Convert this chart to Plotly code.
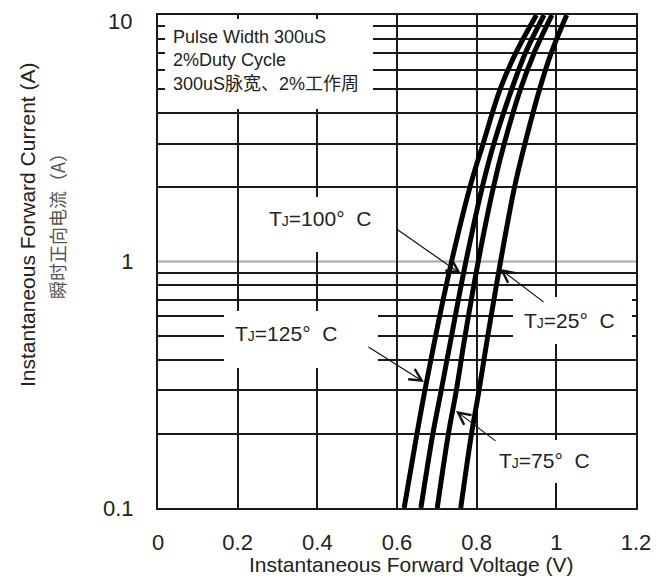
import plotly.graph_objects as go

# ---- data ----
current_a = [0.1, 0.2, 0.3, 0.5, 1, 2, 3, 5, 7, 10]
v_tj125 = [0.618, 0.650, 0.670, 0.697, 0.737, 0.783, 0.816, 0.859, 0.898, 0.950]
v_tj100 = [0.660, 0.690, 0.711, 0.737, 0.773, 0.814, 0.843, 0.888, 0.922, 0.969]
v_tj75 = [0.701, 0.729, 0.749, 0.771, 0.804, 0.842, 0.869, 0.910, 0.944, 0.989]
v_tj25 = [0.760, 0.787, 0.806, 0.828, 0.860, 0.895, 0.921, 0.958, 0.987, 1.026]

x_tick_vals = [0, 0.2, 0.4, 0.6, 0.8, 1.0, 1.2]
x_tick_text = ["0", "0.2", "0.4", "0.6", "0.8", "1", "1.2"]
y_tick_vals = [0.1, 1]
y_tick_text = ["0.1", "1"]
y_top_label = "10"
y_minor_grid = [0.2, 0.3, 0.4, 0.5, 0.6, 0.7, 0.8, 0.9,
                2, 3, 4, 5, 6, 7, 8, 9]

# ---- geometry (window pixels -> paper) ----
OFF = 8  # page body margin
W, H = 663, 578
L, R, T, B = 158, 636, 15, 508


def px(x):
    return (x - L) / (R - L)


def py(y):
    return (B - y) / (B - T)


FONT = "Liberation Sans, Arial, sans-serif"
GRID = "#1a1a1a"
fig = go.Figure()

for v in (v_tj125, v_tj100, v_tj75, v_tj25):
    fig.add_trace(go.Scatter(x=v, y=current_a, mode="lines",
                             line=dict(color="black", width=5, shape="spline"),
                             showlegend=False, hoverinfo="skip"))

shapes = []
# gray line at 1 A
shapes.append(dict(type="line", xref="paper", yref="y", x0=0, x1=1, y0=1, y1=1,
                   line=dict(color="#a8a8a8", width=2), layer="below"))
# white label backgrounds
for (x0, x1, y0, y1) in [(165, 373, 19, 109), (248, 392, 197, 252),
                         (224, 378, 311, 368), (513, 632, 297, 344),
                         (487, 620, 440, 483)]:
    shapes.append(dict(type="rect", xref="paper", yref="paper",
                       x0=px(x0), x1=px(x1), y0=py(y1), y1=py(y0),
                       fillcolor="white", line=dict(width=0), layer="above"))

ann = []
# top y tick label
ann.append(dict(text=y_top_label, xref="paper", yref="paper", x=px(133), y=py(8),
                xanchor="right", yanchor="top", showarrow=False, borderpad=0,
                font=dict(family=FONT, size=22, color="#222")))
# axis titles
ann.append(dict(text="Instantaneous Forward Voltage (V)", xref="paper", yref="paper",
                x=px(411), y=py(564), xanchor="center", yanchor="middle",
                showarrow=False, font=dict(family=FONT, size=21, color="#222")))
ann.append(dict(text="Instantaneous Forward Current (A)", xref="paper", yref="paper",
                x=px(27), y=py(225), xanchor="center", yanchor="middle", textangle=-90,
                showarrow=False, font=dict(family=FONT, size=21, color="#222")))
ann.append(dict(text="瞬时正向电流（A）", xref="paper", yref="paper",
                x=px(57), y=py(222), xanchor="center", yanchor="middle", textangle=-90,
                showarrow=False, font=dict(family="Noto Sans CJK SC", size=18, color="#555")))
# condition text
ann.append(dict(text="Pulse Width 300uS<br>2%Duty Cycle<br>300uS<span style='font-family:Noto Sans CJK SC'>脉宽、</span>2%<span style='font-family:Noto Sans CJK SC'>工作周</span>",
                xref="paper", yref="paper", x=px(171), y=py(25), xanchor="left", yanchor="top",
                align="left", showarrow=False, font=dict(family=FONT, size=18, color="#222")))

labels = [("100", 267, 218), ("125", 233, 333), ("25", 522, 320), ("75", 497, 460)]
for t, lx, ly in labels:
    ann.append(dict(text="T<span style='font-size:14px'>J</span>=" + t + "°\u00a0\u00a0C",
                    xref="paper", yref="paper",
                    x=px(lx), y=py(ly), xanchor="left", yanchor="middle",
                    showarrow=False, font=dict(family=FONT, size=21, color="#222")))

# arrows (tail pixel -> tip pixel)
arrows = [((395, 228), (461, 274)), ((367, 346), (424, 382)),
          ((545, 303), (500, 269)), ((497, 442), (456, 411))]
for (tx, ty), (hx, hy) in arrows:
    ann.append(dict(text="", xref="paper", yref="paper",
                    x=px(hx), y=py(hy), ax=tx - hx, ay=ty - hy, showarrow=True,
                    arrowhead=5, arrowsize=2.0, arrowwidth=1.2, arrowcolor="#111", standoff=0))

fig.update_layout(
    width=W - OFF, height=H - OFF,
    margin=dict(l=L - OFF, r=W - R, t=T - OFF, b=H - B, autoexpand=False),
    paper_bgcolor="white", plot_bgcolor="white",
    shapes=shapes, annotations=ann,
    xaxis=dict(range=[0, 1.2], tickvals=x_tick_vals, ticktext=x_tick_text,
               showgrid=True, gridcolor=GRID, gridwidth=2, zeroline=False,
               showline=True, mirror=True, linecolor=GRID, linewidth=2,
               ticks="", ticklabelstandoff=14, automargin=False,
               tickfont=dict(family=FONT, size=22, color="#222")),
    yaxis=dict(type="log", range=[-1, 1], tickvals=y_tick_vals, ticktext=y_tick_text,
               showgrid=False, zeroline=False,
               minor=dict(tickvals=y_minor_grid, showgrid=True, gridcolor=GRID,
                          gridwidth=2, ticks=""),
               showline=True, mirror=True, linecolor=GRID, linewidth=2,
               ticks="", ticklabelstandoff=18, automargin=False,
               tickfont=dict(family=FONT, size=22, color="#222")),
)

fig.write_html("out.html")
